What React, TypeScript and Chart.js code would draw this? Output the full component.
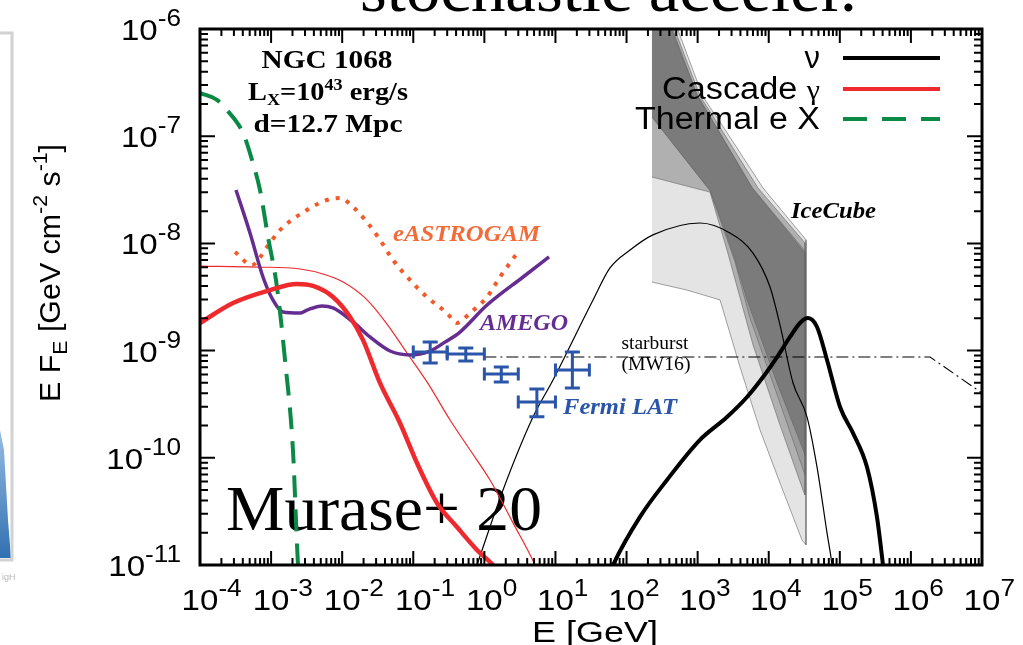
import React, { useEffect, useRef } from 'react';
import { Chart, registerables } from 'chart.js';

Chart.register(...registerables);

// ---------------- data ----------------
const xTickExponents = [-4, -3, -2, -1, 0, 1, 2, 3, 4, 5, 6, 7];
const yTickExponents = [-11, -10, -9, -8, -7, -6];

// Thermal electron X-ray (green dashed)
const thermalE = [1e-4, 1.73e-4, 2.4e-4, 4.03e-4, 5.39e-4, 6.98e-4, 9.05e-4, 1.21e-3, 1.57e-3, 2.03e-3, 2.39e-3, 2.6e-3];
const thermalF = [2.53e-7, 2.18e-7, 1.75e-7, 1.07e-7, 6.0e-8, 3.15e-8, 1.15e-8, 3.92e-9, 8.17e-10, 1.18e-10, 1e-11, 5e-12];

// Cascade gamma (thick red)
const cascE = [1e-4, 2.91e-4, 9.66e-4, 2.31e-3, 3.89e-3, 7.43e-3, 1.29e-2, 1.96e-2, 3.4e-2, 6.5e-2, 0.1127, 0.2156, 0.412, 0.787, 1.32, 1.95];
const cascF = [1.81e-9, 2.78e-9, 3.67e-9, 4.18e-9, 4.01e-9, 3.16e-9, 2.06e-9, 1.26e-9, 4.99e-10, 2.11e-10, 8.94e-11, 3.79e-11, 2.26e-11, 1.38e-11, 1e-11, 7.2e-12];

// Cascade gamma, thin red
const cascThinE = [1e-4, 6.34e-4, 2.55e-3, 5.37e-3, 1.03e-2, 2.1e-2, 4.27e-2, 8.16e-2, 0.156, 0.329, 0.589, 1.2, 2.53, 5.15, 7.13];
const cascThinF = [6.15e-9, 6.02e-9, 5.77e-9, 5.18e-9, 4.37e-9, 3.1e-9, 1.77e-9, 9.5e-10, 5.1e-10, 2.25e-10, 1.26e-10, 6.21e-11, 2.47e-11, 1e-11, 5.8e-12];

// AMEGO sensitivity (purple)
const amegoE = [3.21e-4, 5.05e-4, 7.69e-4, 1.06e-3, 1.47e-3, 2.55e-3, 3.2e-3, 5.2e-3, 7.43e-3, 1.42e-2, 2.46e-2, 4.71e-2, 8.99e-2, 0.172, 0.279, 0.454, 1.09, 3.5, 8.12];
const amegoF = [3.15e-8, 1.25e-8, 4.86e-9, 2.97e-9, 2.29e-9, 2.24e-9, 2.39e-9, 2.61e-9, 2.5e-9, 1.85e-9, 1.34e-9, 9.91e-10, 9.1e-10, 9.91e-10, 1.2e-9, 1.49e-9, 2.66e-9, 4.86e-9, 7.47e-9];

// eASTROGAM sensitivity (orange dotted)
const astroE = [3.1e-4, 5.39e-4, 8.75e-4, 1.33e-3, 3.2e-3, 6.11e-3, 9.31e-3, 1.42e-2, 2.23e-2, 3.4e-2, 5.19e-2, 8.99e-2, 0.156, 0.298, 0.412, 0.628, 1.09, 1.66, 2.97];
const astroF = [8.31e-9, 6.29e-9, 9.25e-9, 1.33e-8, 2.05e-8, 2.54e-8, 2.65e-8, 2.19e-8, 1.58e-8, 1.08e-8, 7.0e-9, 4.56e-9, 3.16e-9, 2.24e-9, 1.81e-9, 2.24e-9, 3.16e-9, 4.86e-9, 8.31e-9];

// Starburst (MW16), dash-dot
const starE = [1.0, 1.86e6, 1e7];
const starF = [8.71e-10, 8.71e-10, 4.02e-10];

// Neutrino (thick black)
const nuE = [49.8, 64.6, 154.5, 370.7, 1079, 2589, 4955, 8313, 13090, 19920, 27540, 35700, 47790, 66070, 1.007e5, 1.535e5, 2.41e5, 3.33e5, 4.05e5, 4.46e5];
const nuF = [6.5e-12, 1e-11, 2.81e-11, 6.21e-11, 1.47e-10, 2.4e-10, 3.69e-10, 5.67e-10, 8.71e-10, 1.34e-9, 1.81e-9, 2.01e-9, 1.66e-9, 8.17e-10, 2.98e-10, 1.7e-10, 8.2e-11, 2.81e-11, 1e-11, 5.8e-12];

// Thin black curve
const thinE = [0.628, 0.787, 1.83, 4.83, 9.24, 33.8, 58.5, 112, 235, 1079, 2851, 6012, 10430, 14420, 21980, 34590, 47790, 66070, 77620, 82800];
const thinF = [6.5e-12, 1e-11, 5.01e-11, 2.4e-10, 5.32e-10, 2.97e-9, 5.9e-9, 8.67e-9, 1.2e-8, 1.55e-8, 1.25e-8, 8.13e-9, 3.92e-9, 1.73e-9, 4.99e-10, 2.4e-10, 8.2e-11, 1.99e-11, 1e-11, 6.5e-12];

// Fermi LAT points
const fermiE = [0.173, 0.548, 1.73, 5.48, 17.3];
const fermiELo = [0.1, 0.3, 1, 3, 10];
const fermiEHi = [0.3, 1, 3, 10, 30];
const fermiF = [9.7e-10, 9.29e-10, 6.05e-10, 3.32e-10, 6.59e-10];
const fermiFLo = [7.66e-10, 8.0e-10, 5.1e-10, 2.41e-10, 4.48e-10];
const fermiFHi = [1.2e-9, 1.06e-9, 7.03e-10, 4.39e-10, 9.7e-10];

// IceCube bands (closed outlines)
const iceLightE = [228, 497, 1191, 2065, 8313, 33440, 33440, 29390, 14420, 7537, 3947, 2065, 708, 228];
const iceLightF = [1.09e-6, 1.09e-6, 2.32e-7, 1.36e-7, 3.29e-8, 1.08e-8, 1.54e-11, 1.71e-11, 5.82e-11, 1.82e-10, 7.03e-10, 2.97e-9, 3.67e-9, 4.36e-9];
const iceMidE = [228, 451, 1079, 1811, 7068, 32390, 32390, 30340, 14420, 6012, 2589, 1493, 228];
const iceMidF = [1.09e-6, 1.09e-6, 2.37e-7, 1.39e-7, 3.29e-8, 1.01e-8, 4.5e-11, 5.01e-11, 2.02e-10, 1.13e-9, 8.68e-9, 3.01e-8, 4.16e-8];
const iceInnerE = [228, 420, 990, 1600, 5900, 32390, 32390, 31330, 14420, 5458, 3357, 1493, 228];
const iceInnerF = [1.09e-6, 1.09e-6, 2.42e-7, 1.42e-7, 3.29e-8, 8.5e-9, 7.0e-11, 7.36e-11, 3.24e-10, 2.01e-9, 6.71e-9, 3.1e-8, 1.51e-7];
const iceDarkE = [228, 408, 979, 1592, 5821, 32390, 32390, 29390, 13090, 4955, 3047, 1493, 228];
const iceDarkF = [1.09e-6, 1.09e-6, 2.42e-7, 1.42e-7, 3.29e-8, 8.13e-9, 1.06e-10, 1.26e-10, 4.99e-10, 2.97e-9, 8.68e-9, 3.15e-8, 1.51e-7];

// ---------------- helpers ----------------
const SANS = '"Liberation Sans", Arial, sans-serif';
const SERIF = '"Liberation Serif", "Times New Roman", serif';

type Run = { t: string; f: string; dy?: number };

function runsWidth(ctx: CanvasRenderingContext2D, runs: Run[]) {
  let w = 0;
  for (const r of runs) {
    ctx.font = r.f;
    w += ctx.measureText(r.t).width;
  }
  return w;
}

function drawRuns(
  ctx: CanvasRenderingContext2D,
  runs: Run[],
  x: number,
  y: number,
  align: 'left' | 'center' | 'right',
  color: string,
  targetW?: number,
  sxFixed?: number
) {
  ctx.save();
  const w = runsWidth(ctx, runs);
  const sx = targetW ? targetW / w : sxFixed || 1;
  const total = w * sx;
  const x0 = align === 'left' ? x : align === 'center' ? x - total / 2 : x - total;
  ctx.translate(x0, y);
  ctx.scale(sx, 1);
  ctx.fillStyle = color;
  ctx.textBaseline = 'alphabetic';
  ctx.textAlign = 'left';
  let cx = 0;
  for (const r of runs) {
    ctx.font = r.f;
    ctx.fillText(r.t, cx, r.dy || 0);
    cx += ctx.measureText(r.t).width;
  }
  ctx.restore();
}

const mk = (xs: number[], ys: number[]) => xs.map((x, i) => ({ x, y: ys[i] }));

const overlayPlugin = {
  id: 'overlay',
  beforeDatasetsDraw(chart: any) {
    const ctx: CanvasRenderingContext2D = chart.ctx;
    drawRuns(ctx, [{ t: 'Murase+ 20', f: `64px ${SERIF}` }], 226, 530, 'left', '#000', 316);
  },
  afterDatasetsDraw(chart: any) {
    const ctx: CanvasRenderingContext2D = chart.ctx;
    const xs = chart.scales.x;
    const ys = chart.scales.y;
    const area = chart.chartArea;

    // Fermi LAT error crosses
    ctx.save();
    ctx.strokeStyle = '#2b55a8';
    ctx.lineWidth = 3;
    ctx.lineCap = 'butt';
    for (let i = 0; i < fermiE.length; i++) {
      const cx = xs.getPixelForValue(fermiE[i]);
      const cy = ys.getPixelForValue(fermiF[i]);
      const x1 = xs.getPixelForValue(fermiELo[i]);
      const x2 = xs.getPixelForValue(fermiEHi[i]);
      const y1 = ys.getPixelForValue(fermiFHi[i]);
      const y2 = ys.getPixelForValue(fermiFLo[i]);
      ctx.beginPath();
      ctx.moveTo(x1, cy); ctx.lineTo(x2, cy);
      ctx.moveTo(x1, cy - 6.5); ctx.lineTo(x1, cy + 6.5);
      ctx.moveTo(x2, cy - 6.5); ctx.lineTo(x2, cy + 6.5);
      ctx.moveTo(cx, y1); ctx.lineTo(cx, y2);
      ctx.moveTo(cx - 7.5, y1); ctx.lineTo(cx + 7.5, y1);
      ctx.moveTo(cx - 7.5, y2); ctx.lineTo(cx + 7.5, y2);
      ctx.stroke();
    }
    ctx.restore();

    // Frame and inward ticks
    ctx.save();
    ctx.strokeStyle = '#000';
    ctx.lineWidth = 2;
    ctx.beginPath();
    for (let k = -4; k <= 7; k++) {
      for (let m = 1; m <= 9; m++) {
        if (k === 7 && m > 1) break;
        const v = m * Math.pow(10, k);
        const px = xs.getPixelForValue(v);
        const len = m === 1 ? 14 : 7;
        ctx.moveTo(px, area.bottom); ctx.lineTo(px, area.bottom - len);
        ctx.moveTo(px, area.top); ctx.lineTo(px, area.top + len);
      }
    }
    for (let k = -11; k <= -6; k++) {
      for (let m = 1; m <= 9; m++) {
        if (k === -6 && m > 1) break;
        const v = m * Math.pow(10, k);
        const py = ys.getPixelForValue(v);
        const len = m === 1 ? 15 : 8;
        ctx.moveTo(area.left, py); ctx.lineTo(area.left + len, py);
        ctx.moveTo(area.right, py); ctx.lineTo(area.right - len, py);
      }
    }
    ctx.stroke();
    ctx.lineWidth = 3;
    ctx.strokeRect(area.left, area.top, area.right - area.left, area.bottom - area.top);
    ctx.restore();

    // Tick labels
    const big = `29px ${SANS}`;
    const sup = `23px ${SANS}`;
    const tsx = 1.14;
    for (const k of xTickExponents) {
      const px = xs.getPixelForValue(Math.pow(10, k));
      ctx.font = big;
      const w10 = ctx.measureText('10').width * tsx;
      drawRuns(ctx, [{ t: '10', f: big }, { t: String(k), f: sup, dy: -14 }], px - w10 / 2, 610, 'left', '#000', undefined, tsx);
    }
    for (const k of yTickExponents) {
      const py = ys.getPixelForValue(Math.pow(10, k));
      drawRuns(ctx, [{ t: '10', f: big }, { t: String(k), f: sup, dy: -14 }], 181, py + 11, 'right', '#000', undefined, tsx);
    }

    // Axis titles
    drawRuns(ctx, [{ t: 'E [GeV]', f: `30px ${SANS}` }], 595, 642, 'center', '#000', 126);
    ctx.save();
    ctx.translate(60, 273);
    ctx.rotate(-Math.PI / 2);
    drawRuns(
      ctx,
      [
        { t: 'E F', f: `30px ${SANS}` },
        { t: 'E', f: `21px ${SANS}`, dy: 7 },
        { t: ' [GeV cm', f: `30px ${SANS}` },
        { t: '-2', f: `21px ${SANS}`, dy: -13 },
        { t: ' s', f: `30px ${SANS}` },
        { t: '-1', f: `21px ${SANS}`, dy: -13 },
        { t: ']', f: `30px ${SANS}` },
      ],
      0, 0, 'center', '#000', 258
    );
    ctx.restore();

    // Annotations
    const bs = `bold 25px ${SERIF}`;
    const bsSmall = `bold 16px ${SERIF}`;
    drawRuns(ctx, [{ t: 'NGC 1068', f: bs }], 327, 68, 'center', '#000', 131);
    drawRuns(
      ctx,
      [
        { t: 'L', f: bs },
        { t: 'X', f: bsSmall, dy: 5 },
        { t: '=10', f: bs },
        { t: '43', f: bsSmall, dy: -10 },
        { t: ' erg/s', f: bs },
      ],
      328, 100, 'center', '#000', 160
    );
    drawRuns(ctx, [{ t: 'd=12.7 Mpc', f: bs }], 328, 132, 'center', '#000', 149);

    const bi = `italic bold 24px ${SERIF}`;
    drawRuns(ctx, [{ t: 'eASTROGAM', f: bi }], 393, 241, 'left', '#f26b38', 147);
    drawRuns(ctx, [{ t: 'AMEGO', f: bi }], 480, 330, 'left', '#662d91', 88);
    drawRuns(ctx, [{ t: 'Fermi LAT', f: bi }], 563, 414, 'left', '#2b55a8', 114);
    drawRuns(ctx, [{ t: 'IceCube', f: `italic bold 23px ${SERIF}` }], 791, 218, 'left', '#000', 85);
    drawRuns(ctx, [{ t: 'starburst', f: `19px ${SERIF}` }], 655, 349, 'center', '#000', 67);
    drawRuns(ctx, [{ t: '(MW16)', f: `19px ${SERIF}` }], 656, 370, 'center', '#000', 69);

    // Legend
    const lf = `31px ${SANS}`;
    drawRuns(ctx, [{ t: 'ν', f: lf }], 820, 68, 'right', '#000');
    drawRuns(ctx, [{ t: 'Cascade ', f: lf }, { t: 'γ', f: `27px ${SERIF}` }], 820, 99, 'right', '#000', 158);
    drawRuns(ctx, [{ t: 'Thermal e X', f: lf }], 820, 129, 'right', '#000', 185);
    ctx.save();
    ctx.lineWidth = 4;
    ctx.strokeStyle = '#000';
    ctx.beginPath(); ctx.moveTo(843, 58); ctx.lineTo(940, 58); ctx.stroke();
    ctx.strokeStyle = '#ee2a2e';
    ctx.beginPath(); ctx.moveTo(843, 89); ctx.lineTo(940, 89); ctx.stroke();
    ctx.strokeStyle = '#0b8a45';
    ctx.setLineDash([24, 15]);
    ctx.beginPath(); ctx.moveTo(843, 119); ctx.lineTo(940, 119); ctx.stroke();
    ctx.restore();

    // Cropped title at top
    drawRuns(ctx, [{ t: 'stochastic acceler.', f: `68px ${SERIF}` }], 360, 11, 'left', '#000', 497);

    // Remnants of a neighbouring figure on the left edge
    ctx.save();
    const g = ctx.createLinearGradient(0, 420, 0, 560);
    g.addColorStop(0, '#9fc3e6');
    g.addColorStop(1, '#2f6fb0');
    ctx.fillStyle = g;
    ctx.beginPath();
    ctx.moveTo(0, 430); ctx.lineTo(4, 450); ctx.lineTo(8, 520); ctx.lineTo(11, 558); ctx.lineTo(0, 558);
    ctx.closePath(); ctx.fill();
    ctx.strokeStyle = '#d2d2d2';
    ctx.lineWidth = 3;
    ctx.beginPath();
    ctx.moveTo(0, 33); ctx.lineTo(12, 33); ctx.lineTo(12, 560); ctx.lineTo(0, 560);
    ctx.stroke();
    ctx.fillStyle = '#b8b8b8';
    ctx.font = `9px ${SANS}`;
    ctx.fillText('igH', 2, 580);
    ctx.restore();
  },
};

export default function App() {
  const ref = useRef<HTMLCanvasElement | null>(null);
  useEffect(() => {
    if (!ref.current) return;
    const line = (data: any, extra: any) => ({
      data,
      pointRadius: 0,
      fill: false,
      cubicInterpolationMode: 'monotone',
      ...extra,
    });
    const band = (label: string, data: any, color: string, order: number) => ({
      label,
      data,
      pointRadius: 0,
      tension: 0,
      borderColor: 'rgba(100,100,100,0.75)',
      borderWidth: 0.8,
      backgroundColor: color,
      fill: 'shape',
      order,
    });
    const chart = new Chart(ref.current, {
      type: 'line',
      data: {
        datasets: [
          line(mk(nuE, nuF), { label: 'nu', borderColor: '#000', borderWidth: 4, order: 1 }),
          line(mk(cascE, cascF), { label: 'cascade', borderColor: '#ee2a2e', borderWidth: 4.5, order: 2 }),
          line(mk(thermalE, thermalF), { label: 'thermal', borderColor: '#0b8a45', borderWidth: 4, borderDash: [22, 12], order: 3 }),
          line(mk(amegoE, amegoF), { label: 'amego', borderColor: '#662d91', borderWidth: 3.5, order: 4 }),
          line(mk(astroE, astroF), { label: 'eastrogam', borderColor: '#f15a29', borderWidth: 4, borderDash: [4, 7], order: 5 }),
          line(mk(cascThinE, cascThinF), { label: 'cascadeThin', borderColor: '#ee2a2e', borderWidth: 1.2, order: 6 }),
          line(mk(thinE, thinF), { label: 'thin', borderColor: '#000', borderWidth: 1.2, order: 6 }),
          line(mk(starE, starF), { label: 'starburst', borderColor: '#000', borderWidth: 1.1, borderDash: [12, 4, 2, 4], tension: 0, cubicInterpolationMode: 'default', order: 7 }),
          band('iceDark', mk(iceDarkE, iceDarkF), '#7b7b7b', 10),
          band('iceInner', mk(iceInnerE, iceInnerF), '#9b9b9b', 11),
          band('iceMid', mk(iceMidE, iceMidF), '#b0b0b0', 12),
          band('iceLight', mk(iceLightE, iceLightF), '#e4e4e4', 13),
        ] as any,
      },
      options: {
        animation: false,
        responsive: false,
        maintainAspectRatio: false,
        events: [],
        layout: { padding: { left: 200, right: 41, top: 29, bottom: 80 } },
        scales: {
          x: { type: 'logarithmic', min: 1e-4, max: 1e7, display: false },
          y: { type: 'logarithmic', min: 1e-11, max: 1e-6, display: false },
        },
        plugins: { legend: { display: false }, tooltip: { enabled: false } },
      } as any,
      plugins: [overlayPlugin as any],
    });
    return () => chart.destroy();
  }, []);
  return (
    <div style={{ position: 'fixed', left: 0, top: 0, width: 1023, height: 645, background: '#fff' }}>
      <canvas ref={ref} width={1023} height={645} style={{ display: 'block', width: 1023, height: 645 }} />
    </div>
  );
}
